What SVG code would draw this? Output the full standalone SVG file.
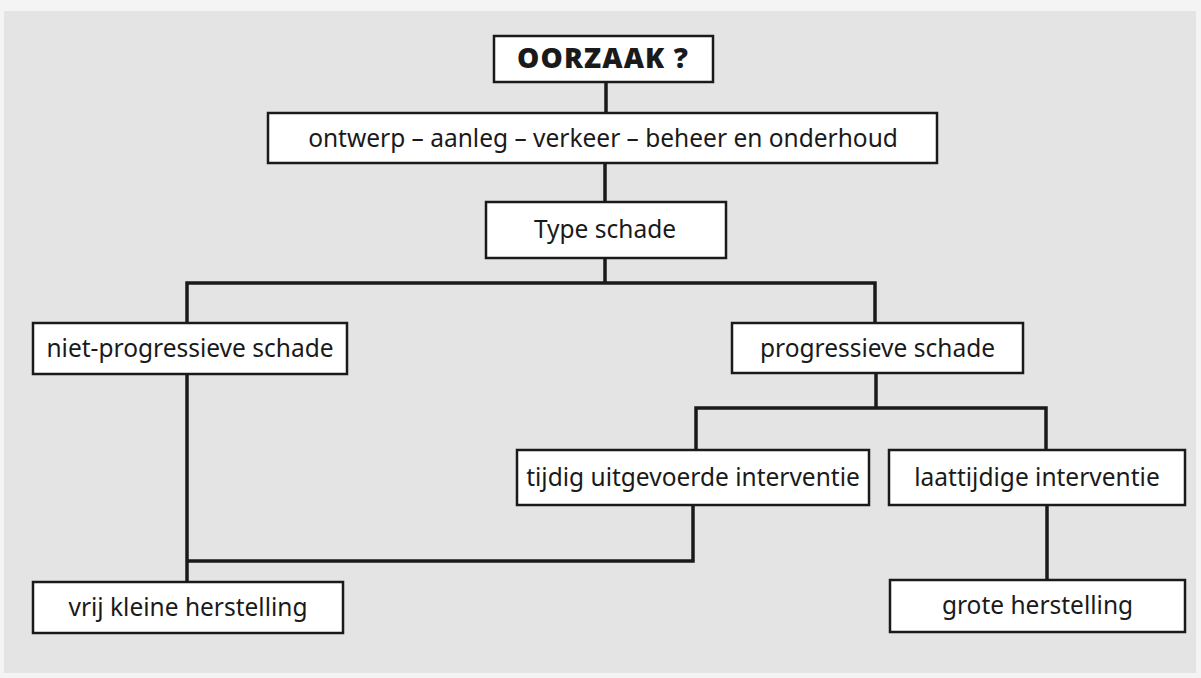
<svg xmlns="http://www.w3.org/2000/svg" width="1201" height="678" viewBox="0 0 1201 678">
<style>
.box{fill:#ffffff;stroke:#1a1a1a;stroke-width:2.5}
.ln{fill:none;stroke:#1a1a1a;stroke-width:3.5;stroke-linecap:square}
.t{font-family:"Noto Sans","Liberation Sans",sans-serif;font-size:24.5px;fill:#1a1a1a;text-anchor:middle}
.b{font-weight:900;font-size:28px}
</style>
<rect x="0" y="0" width="1201" height="678" fill="#f4f4f4"/>
<rect x="4" y="11" width="1192" height="662" fill="#e4e4e4"/>
<g id="connectors">
<path class="ln" d="M606 82 V113"/>
<path class="ln" d="M605 163 V202"/>
<path class="ln" d="M605 258 V283 M187 283 H875 M187 283 V323 M875 283 V323"/>
<path class="ln" d="M876 373 V408 M696 408 H1046 M696 408 V450 M1046 408 V450"/>
<path class="ln" d="M187 374 V582 M187 561 H693 M693 505 V561"/>
<path class="ln" d="M1047 505 V580"/>
</g>
<g id="n1"><rect class="box" x="494" y="36" width="219" height="46"/><text class="t b" x="602.5" y="67.5" textLength="171" lengthAdjust="spacing">OORZAAK ?</text></g>
<g id="n2"><rect class="box" x="268" y="113" width="669" height="50"/><text class="t" x="603" y="147">ontwerp – aanleg – verkeer – beheer en onderhoud</text></g>
<g id="n3"><rect class="box" x="486" y="202" width="240" height="56"/><text class="t" x="605" y="238">Type schade</text></g>
<g id="n4"><rect class="box" x="33" y="323" width="314" height="51"/><text class="t" x="190" y="357">niet-progressieve schade</text></g>
<g id="n5"><rect class="box" x="732" y="323" width="291" height="50"/><text class="t" x="877.5" y="357">progressieve schade</text></g>
<g id="n6"><rect class="box" x="517" y="450" width="352" height="55"/><text class="t" x="693" y="486">tijdig uitgevoerde interventie</text></g>
<g id="n7"><rect class="box" x="889" y="450" width="296" height="55"/><text class="t" x="1037" y="486">laattijdige interventie</text></g>
<g id="n8"><rect class="box" x="33" y="582" width="310" height="51"/><text class="t" x="188" y="616">vrij kleine herstelling</text></g>
<g id="n9"><rect class="box" x="890" y="580" width="295" height="52"/><text class="t" x="1037.5" y="614">grote herstelling</text></g>
</svg>
